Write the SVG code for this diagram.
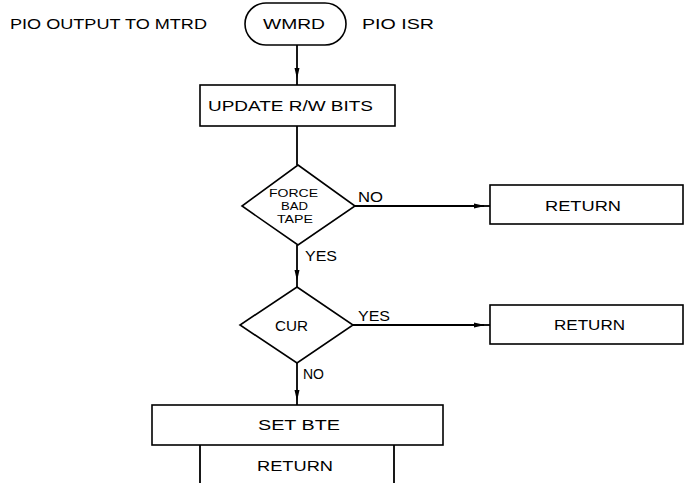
<svg xmlns="http://www.w3.org/2000/svg" width="685" height="483" viewBox="0 0 685 483">
<style>
.s{fill:#fff;stroke:#000;stroke-width:1.6}
.l{fill:none;stroke:#000;stroke-width:1.8}
.t{font-family:"Liberation Sans",Arial,sans-serif;font-size:15px;fill:#000;dominant-baseline:central}
.sm{font-size:11px}
</style>
<defs>
<marker id="ah" markerWidth="11" markerHeight="7" refX="10" refY="3.5" orient="auto" markerUnits="userSpaceOnUse">
<path d="M0,1 L11,3.5 L0,6 Z" fill="#000"/>
</marker>
</defs>
<rect width="685" height="483" fill="#fff"/>
<text class="t" x="10" y="23" textLength="197" lengthAdjust="spacingAndGlyphs">PIO OUTPUT TO MTRD</text>
<text class="t" x="362" y="23" textLength="72" lengthAdjust="spacingAndGlyphs">PIO ISR</text>
<g id="connectors">
<line class="l" x1="297" y1="45" x2="297" y2="78" marker-end="url(#ah)"/>
<line class="l" x1="297" y1="78" x2="297" y2="85"/>
<line class="l" x1="297" y1="126" x2="297" y2="165"/>
<line class="l" x1="355" y1="206" x2="484" y2="206" marker-end="url(#ah)"/>
<line class="l" x1="484" y1="206" x2="490" y2="206"/>
<line class="l" x1="297" y1="245" x2="297" y2="280" marker-end="url(#ah)"/>
<line class="l" x1="297" y1="280" x2="297" y2="287"/>
<line class="l" x1="353" y1="325" x2="484" y2="325" marker-end="url(#ah)"/>
<line class="l" x1="484" y1="325" x2="490" y2="325"/>
<line class="l" x1="297" y1="363" x2="297" y2="400" marker-end="url(#ah)"/>
<line class="l" x1="297" y1="400" x2="297" y2="405"/>
<text class="t" x="358" y="196" textLength="25" lengthAdjust="spacingAndGlyphs">NO</text>
<text class="t" x="305" y="255" textLength="32" lengthAdjust="spacingAndGlyphs">YES</text>
<text class="t" x="358" y="315" textLength="32" lengthAdjust="spacingAndGlyphs">YES</text>
<text class="t" x="303" y="373" textLength="21" lengthAdjust="spacingAndGlyphs">NO</text>
</g>
<g id="start">
<rect class="s" x="245" y="3" width="101" height="42" rx="21"/>
<text class="t" x="263" y="23" textLength="62" lengthAdjust="spacingAndGlyphs">WMRD</text>
</g>
<g id="update">
<rect class="s" x="200" y="85" width="195" height="41"/>
<text class="t" x="208" y="105" textLength="165" lengthAdjust="spacingAndGlyphs">UPDATE R/W BITS</text>
</g>
<g id="force">
<polygon class="s" points="298,165 355,206 298,245 242,206"/>
<text class="t sm" x="269" y="193" textLength="49" lengthAdjust="spacingAndGlyphs">FORCE</text>
<text class="t sm" x="281" y="206" textLength="27" lengthAdjust="spacingAndGlyphs">BAD</text>
<text class="t sm" x="277" y="219" textLength="36" lengthAdjust="spacingAndGlyphs">TAPE</text>
</g>
<g id="return1">
<rect class="s" x="490" y="185" width="193" height="39"/>
<text class="t" x="545" y="205" textLength="76" lengthAdjust="spacingAndGlyphs">RETURN</text>
</g>
<g id="cur">
<polygon class="s" points="297,287 353,325 297,363 240,325"/>
<text class="t" x="275" y="325" textLength="33" lengthAdjust="spacingAndGlyphs">CUR</text>
</g>
<g id="return2">
<rect class="s" x="490" y="305" width="193" height="39"/>
<text class="t" x="554" y="324" textLength="71" lengthAdjust="spacingAndGlyphs">RETURN</text>
</g>
<g id="setbte">
<rect class="s" x="152" y="405" width="291" height="40"/>
<text class="t" x="258" y="424" textLength="82" lengthAdjust="spacingAndGlyphs">SET BTE</text>
</g>
<g id="return3">
<path class="l" d="M200,445 V484 M394,445 V484"/>
<text class="t" x="257" y="465" textLength="76" lengthAdjust="spacingAndGlyphs">RETURN</text>
</g>
</svg>
